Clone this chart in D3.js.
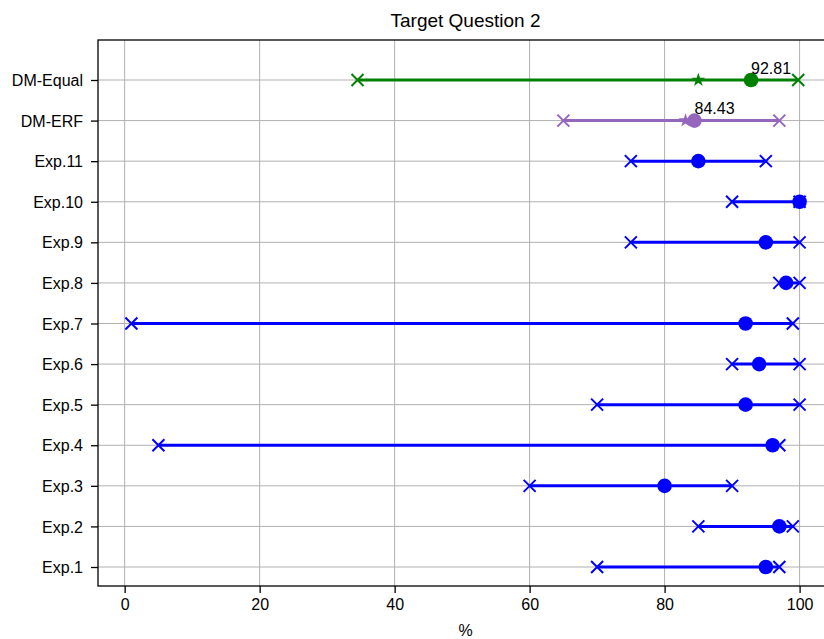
<!DOCTYPE html>
<html>
<head>
<meta charset="utf-8">
<script src="https://cdn.jsdelivr.net/npm/d3@7"></script>
<style>
  body { margin: 0; background: #fff; overflow: hidden; }
  text { font-family: "Liberation Sans", Arial, sans-serif; }
</style>
</head>
<body>
<svg id="chart" width="824" height="639"></svg>
<script>
// rows, bottom to top
const labels = ["Exp.1", "Exp.2", "Exp.3", "Exp.4", "Exp.5", "Exp.6", "Exp.7",
    "Exp.8", "Exp.9", "Exp.10", "Exp.11", "DM-ERF", "DM-Equal"];
const lows  = [70, 85, 60, 5, 70, 90, 1, 97, 75, 90, 75, 65, 34.5];
const highs = [97, 99, 90, 97, 100, 100, 99, 100, 100, 100, 95, 97, 99.8];
const mids  = [95, 97, 80, 96, 92, 94, 92, 98, 95, 100, 85, 84.43, 92.81];
const stars = [null, null, null, null, null, null, null, null, null, null, null, 83.1, 85];
const colors = ["blue", "blue", "blue", "blue", "blue", "blue", "blue",
    "blue", "blue", "blue", "blue", "#9467bd", "green"];
const annot = [null, null, null, null, null, null, null, null, null, null, null, "84.43", "92.81"];
const xTicks = [0, 20, 40, 60, 80, 100];

const mLeft = 98, mRight = 833, mTop = 40, mBottom = 586;

const svg = d3.select("#chart");

const x = d3.scaleLinear().domain([-3.95, 104.95]).range([mLeft, mRight]);
const y = d3.scaleLinear().domain([0, 12]).range([567, 80]);

// grid
svg.append("g").selectAll("line").data(xTicks).join("line")
    .attr("x1", d => x(d)).attr("x2", d => x(d))
    .attr("y1", mTop).attr("y2", mBottom)
    .attr("stroke", "#b0b0b0").attr("stroke-width", 1);
svg.append("g").selectAll("line").data(labels).join("line")
    .attr("x1", mLeft).attr("x2", mRight)
    .attr("y1", (d, i) => y(i)).attr("y2", (d, i) => y(i))
    .attr("stroke", "#b0b0b0").attr("stroke-width", 1);

// axes
const xAxis = svg.append("g").attr("transform", `translate(0,${mBottom})`)
    .call(d3.axisBottom(x).tickValues(xTicks).tickSize(7).tickPadding(6));
const yAxis = svg.append("g").attr("transform", `translate(${mLeft},0)`)
    .call(d3.axisLeft(y).tickValues(d3.range(labels.length))
        .tickFormat(i => labels[i]).tickSize(7).tickPadding(8));
[xAxis, yAxis].forEach(g => {
    g.select(".domain").remove();
    g.selectAll("text").attr("font-size", 16).attr("fill", "#000")
        .attr("font-family", "'Liberation Sans', Arial, sans-serif");
    g.selectAll("line").attr("stroke", "#000").attr("stroke-width", 1.3);
});
yAxis.selectAll("text").attr("dy", "0.35em");

// frame
svg.append("rect").attr("x", mLeft).attr("y", mTop)
    .attr("width", mRight - mLeft).attr("height", mBottom - mTop)
    .attr("fill", "none").attr("stroke", "#000").attr("stroke-width", 1.3);

const rows = labels.map((l, i) => ({ i, lo: lows[i], hi: highs[i], mid: mids[i], star: stars[i], c: colors[i], txt: annot[i] }));
const plot = svg.append("g");

// range lines
plot.selectAll("line.range").data(rows).join("line")
    .attr("class", "range")
    .attr("x1", d => x(d.lo)).attr("x2", d => x(d.hi))
    .attr("y1", d => y(d.i)).attr("y2", d => y(d.i))
    .attr("stroke", d => d.c).attr("stroke-width", 3);

// x markers at both ends
const s = 6;
const ends = rows.flatMap(d => [{ v: d.lo, i: d.i, c: d.c }, { v: d.hi, i: d.i, c: d.c }]);
plot.selectAll("path.xm").data(ends).join("path")
    .attr("class", "xm")
    .attr("d", d => {
        const cx = x(d.v), cy = y(d.i);
        return `M${cx - s},${cy - s}L${cx + s},${cy + s}M${cx - s},${cy + s}L${cx + s},${cy - s}`;
    })
    .attr("stroke", d => d.c).attr("stroke-width", 2).attr("fill", "none");

// stars
plot.selectAll("path.star").data(rows.filter(d => d.star != null)).join("path")
    .attr("class", "star")
    .attr("d", d3.symbol().type(d3.symbolStar).size(60))
    .attr("transform", d => `translate(${x(d.star)},${y(d.i)})`)
    .attr("fill", d => d.c);

// circles
plot.selectAll("circle").data(rows).join("circle")
    .attr("cx", d => x(d.mid)).attr("cy", d => y(d.i))
    .attr("r", 7.3).attr("fill", d => d.c);

// annotations
plot.selectAll("text.annot").data(rows.filter(d => d.txt)).join("text")
    .attr("class", "annot")
    .attr("x", d => x(d.mid)).attr("y", d => y(d.i) - 6.5)
    .attr("font-size", 16).attr("fill", "#000")
    .text(d => d.txt);

// title and label
svg.append("text").attr("x", (mLeft + mRight) / 2).attr("y", 27)
    .attr("text-anchor", "middle").attr("font-size", 19).text("Target Question 2");
svg.append("text").attr("x", (mLeft + mRight) / 2).attr("y", 636)
    .attr("text-anchor", "middle").attr("font-size", 16).text("%");
</script>
</body>
</html>
